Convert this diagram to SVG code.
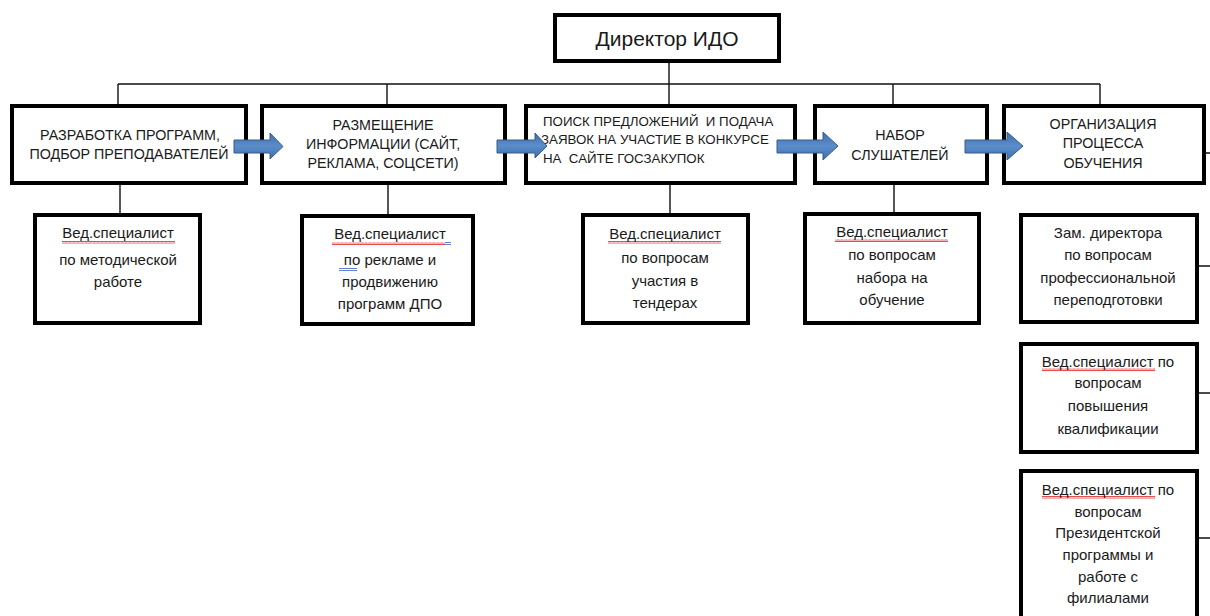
<svg xmlns="http://www.w3.org/2000/svg" width="1210" height="616" viewBox="0 0 1210 616">
<style>
.box{fill:#fff;stroke:#000;stroke-width:4}
.ln{stroke:#111;stroke-width:1.4;fill:none}
.t{font-family:"Liberation Sans",Arial,sans-serif;fill:#1a1a1a;text-anchor:middle}
.cap{font-size:14.3px}
.sub{font-size:15px}
.dir{font-size:21px}
.l{text-anchor:start;white-space:pre;font-size:13.3px}
.arr{fill:url(#ag);stroke:#385D8A;stroke-width:1}
.wave{fill:url(#wv)}
</style>
<defs>
<linearGradient id="ag" x1="0" y1="0" x2="0" y2="1">
<stop offset="0" stop-color="#3F6FAB"/>
<stop offset="0.5" stop-color="#5B8DCB"/>
<stop offset="1" stop-color="#3F6FAB"/>
</linearGradient>
<pattern id="wv" width="4" height="3" patternUnits="userSpaceOnUse">
<path d="M0,2.5 L1,0.5 L2,2.5 L3,0.5 L4,2.5" stroke="#e02020" stroke-width="0.8" fill="none"/>
</pattern>
</defs>

<g id="connectors">
<path class="ln" d="M118,84 H1100 M118,84 V104 M387,84 V104 M669,63 V104 M893,84 V104 M1100,84 V104"/>
<path class="ln" d="M120,185 V213 M388,185 V214 M670,185 V213 M894,185 V212"/>
<path class="ln" d="M1206,153 H1210 M1199,266 H1210 M1199,393 H1210 M1199,538 H1210"/>
</g>

<g id="director">
<rect class="box" x="555" y="15" width="224" height="46"/>
<text class="t dir" x="667" y="46">Директор ИДО</text>
</g>

<g id="n1">
<rect class="box" x="12" y="106" width="234" height="77"/>
<text class="t cap" x="130" y="140">РАЗРАБОТКА ПРОГРАММ,</text>
<text class="t cap" x="129" y="159">ПОДБОР ПРЕПОДАВАТЕЛЕЙ</text>
</g>

<g id="n2">
<rect class="box" x="262" y="106" width="243" height="77"/>
<text class="t cap" x="383" y="130">РАЗМЕЩЕНИЕ</text>
<text class="t cap" x="383" y="149">ИНФОРМАЦИИ (САЙТ,</text>
<text class="t cap" x="383" y="168">РЕКЛАМА, СОЦСЕТИ)</text>
</g>

<g id="n3">
<rect class="box" x="526" y="106" width="269" height="77"/>
<text class="t l" x="543" y="126">ПОИСК ПРЕДЛОЖЕНИЙ  И ПОДАЧА</text>
<text class="t l" x="541" y="144">ЗАЯВОК НА УЧАСТИЕ В КОНКУРСЕ</text>
<text class="t l" x="543" y="163">НА  САЙТЕ ГОСЗАКУПОК</text>
</g>

<g id="n4">
<rect class="box" x="815" y="106" width="172" height="77"/>
<text class="t cap" x="900" y="140">НАБОР</text>
<text class="t cap" x="900" y="160">СЛУШАТЕЛЕЙ</text>
</g>

<g id="n5">
<rect class="box" x="1004" y="106" width="200" height="77"/>
<text class="t cap" x="1103" y="129">ОРГАНИЗАЦИЯ</text>
<text class="t cap" x="1103" y="148">ПРОЦЕССА</text>
<text class="t cap" x="1103" y="168">ОБУЧЕНИЯ</text>
</g>

<g id="s1">
<rect class="box" x="35" y="215" width="165" height="108"/>
<rect class="wave" x="62" y="241" width="113" height="3"/>
<text class="t sub" x="118" y="238">Вед.специалист</text>
<text class="t sub" x="118" y="265">по методической</text>
<text class="t sub" x="118" y="287">работе</text>
</g>

<g id="s2">
<rect class="box" x="302" y="216" width="171" height="108"/>
<rect class="wave" x="332" y="242" width="113" height="3"/>
<path d="M445,242.5 H451 M445,244.5 H451 M339,268.5 H357 M339,270.5 H357" stroke="#3a62c8" stroke-width="0.8"/>
<text class="t sub" x="390" y="239">Вед.специалист</text>
<text class="t sub" x="390" y="265">по рекламе и</text>
<text class="t sub" x="390" y="287">продвижению</text>
<text class="t sub" x="390" y="309">программ ДПО</text>
</g>

<g id="s3">
<rect class="box" x="583" y="215" width="165" height="108"/>
<rect class="wave" x="608" y="241" width="113" height="3"/>
<text class="t sub" x="665" y="239">Вед.специалист</text>
<text class="t sub" x="665" y="263">по вопросам</text>
<text class="t sub" x="665" y="286">участия в</text>
<text class="t sub" x="665" y="308">тендерах</text>
</g>

<g id="s4">
<rect class="box" x="805" y="214" width="174" height="109"/>
<rect class="wave" x="835" y="239" width="113" height="3"/>
<text class="t sub" x="892" y="237">Вед.специалист</text>
<text class="t sub" x="892" y="260">по вопросам</text>
<text class="t sub" x="892" y="283">набора на</text>
<text class="t sub" x="892" y="305">обучение</text>
</g>

<g id="s5">
<rect class="box" x="1021" y="215" width="176" height="107"/>
<text class="t sub" x="1108" y="238">Зам. директора</text>
<text class="t sub" x="1108" y="260">по вопросам</text>
<text class="t sub" x="1108" y="283">профессиональной</text>
<text class="t sub" x="1108" y="305">переподготовки</text>
</g>

<g id="s6">
<rect class="box" x="1021" y="344" width="176" height="108"/>
<rect class="wave" x="1042" y="368" width="113" height="3"/>
<text class="t sub" x="1108" y="367">Вед.специалист по</text>
<text class="t sub" x="1108" y="388">вопросам</text>
<text class="t sub" x="1108" y="411">повышения</text>
<text class="t sub" x="1108" y="434">квалификации</text>
</g>

<g id="s7">
<rect class="box" x="1021" y="471" width="176" height="160"/>
<rect class="wave" x="1042" y="496" width="113" height="3"/>
<text class="t sub" x="1108" y="495">Вед.специалист по</text>
<text class="t sub" x="1108" y="517">вопросам</text>
<text class="t sub" x="1108" y="538">Президентской</text>
<text class="t sub" x="1108" y="560">программы и</text>
<text class="t sub" x="1108" y="582">работе с</text>
<text class="t sub" x="1108" y="603">филиалами</text>
</g>

<g id="arrows">
<path class="arr" d="M234,140 H270 V133 L283,146.5 L270,159 V153 H234 Z"/>
<path class="arr" d="M497,140 H535 V133 L547,146 L535,158 V153 H497 Z"/>
<path class="arr" d="M777,140 H823 V132 L838,146 L823,160 V153 H777 Z"/>
<path class="arr" d="M965,140 H1007 V132 L1023,146 L1007,160 V153 H965 Z"/>
</g>
</svg>
